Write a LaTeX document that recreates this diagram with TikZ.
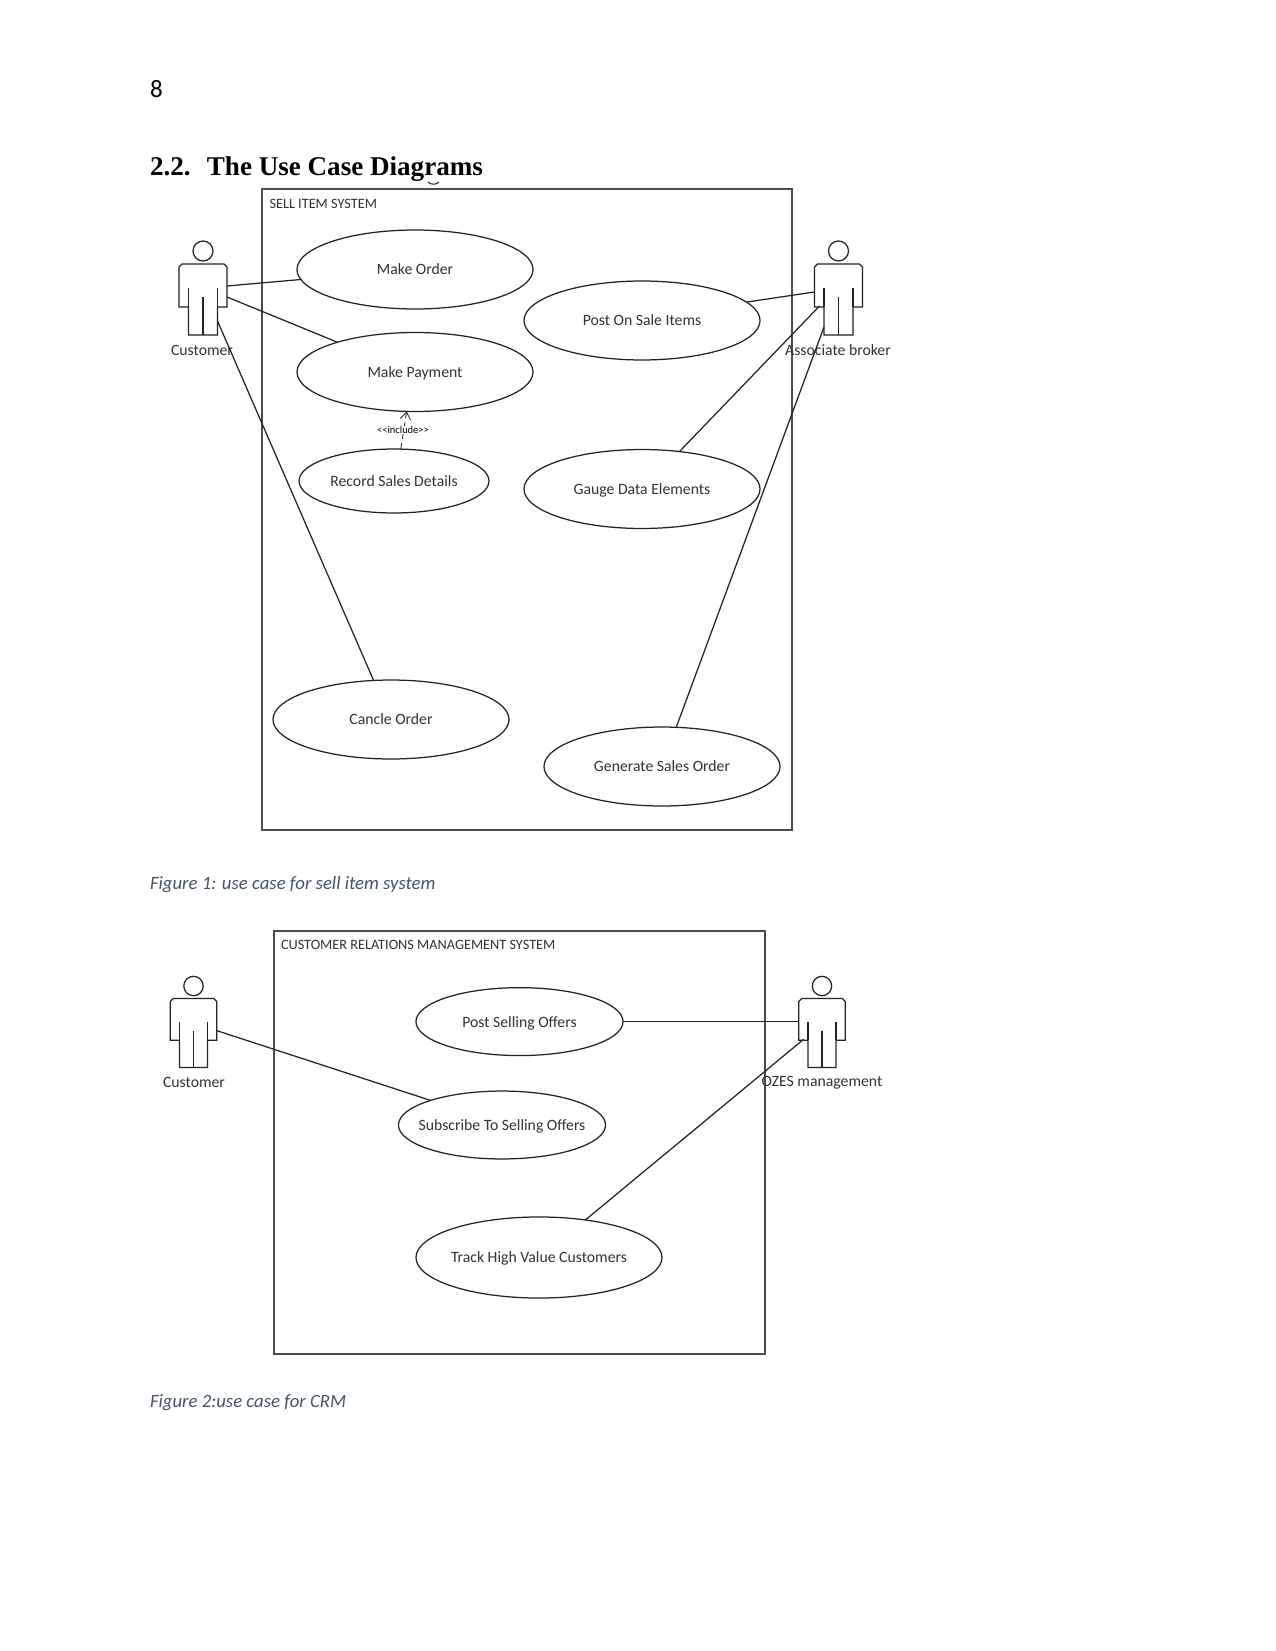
\documentclass[tikz,border=0pt]{standalone}
\usepackage{fontspec}
\setmainfont{Carlito}
\newfontfamily\headfont{Liberation Serif}
\definecolor{linegray}{RGB}{35,35,35}
\definecolor{boxgray}{RGB}{75,75,75}
\definecolor{textgray}{RGB}{50,50,50}
\definecolor{captionblue}{RGB}{68,84,106}
\usetikzlibrary{arrows.meta,positioning,shapes.geometric,calc}

\tikzset{
  pics/actor/.style={code={
    \draw[actorline] (0,0) circle[radius=10];
    \draw[actorline] (-14.5,84) -- (-14.5,56) -- (-24,56) -- (-24,16) -- (-21,13) -- (21,13)
      -- (24,16) -- (24,56) -- (14.5,56) -- (14.5,84) -- cycle;
    \draw[actorline] (-14.5,37) -- (-14.5,56);
    \draw[actorline] (14.5,37) -- (14.5,56);
    \draw[actorline] (0,46) -- (0,84);
    % connector ends on the figure
    \coordinate (-rightA) at (24,35);
    \coordinate (-rightB) at (24,46);
    \coordinate (-legR) at (14.5,70);
    \coordinate (-leftA) at (-24,41);
    \coordinate (-leftB) at (-19,55);
    \coordinate (-legL) at (-14.5,76);
  }},
}

\begin{document}
\begin{tikzpicture}[
  x=0.48pt, y=-0.48pt,
  every node/.style={font=\fontsize{7.55pt}{9pt}\selectfont, text=textgray, inner sep=0pt, outer sep=0pt},
  actorline/.style={draw=linegray, line width=0.6pt},
  sysbox/.style={draw=boxgray, line width=0.75pt},
  link/.style={draw=linegray, line width=0.6pt},
  casebig/.style={ellipse, draw=linegray, line width=0.6pt, text depth=0pt, minimum width=113.3pt, minimum height=37.9pt},
  casesmall/.style={ellipse, draw=linegray, line width=0.6pt, text depth=0pt, minimum width=91.2pt, minimum height=30.7pt},
  casemid/.style={ellipse, draw=linegray, line width=0.6pt, text depth=0pt, inner xsep=-6pt, minimum width=99.4pt, minimum height=32.6pt},
  casewide/.style={ellipse, draw=linegray, line width=0.6pt, text depth=0pt, inner xsep=-2pt, minimum width=118.1pt, minimum height=38.9pt},
  boxtitle/.style={anchor=west, font=\fontsize{6.85pt}{8pt}\selectfont},
  caption/.style={anchor=west, text=captionblue, font=\fontsize{9pt}{11pt}\selectfont\itshape},
]
\useasboundingbox (0,0) rectangle (1275,1651);
\fill[white] (0,0) rectangle (1275,1651);

% Page head
\node[anchor=west, text=black, font=\fontsize{12pt}{14pt}\selectfont] (pagenum) at (150,89) {8};
\node[anchor=base west, text=black, font=\headfont\fontsize{13pt}{15pt}\selectfont\bfseries] (heading) at (150,175.5) {2.2.\hspace{7.8pt}The Use Case Diagrams};
\draw[linegray, line width=0.5pt] (428,182) .. controls (431,185) and (436,185) .. (439,182);

% Sell item system
\draw[sysbox] (262,189) rectangle (792,830);
\node[boxtitle] (selltitle) at (269.5,204) {SELL ITEM SYSTEM};

\pic (cust) at (203,251) {actor};
\pic (broker) at (838.5,251) {actor};
\node (custlabel) at (202,350) {Customer};
\node (brokerlabel) at (838,350) {Associate broker};

\node[casebig] (order) at (415,269.5) {Make Order};
\node[casebig] (payment) at (415,372) {Make Payment};
\node[casesmall] (record) at (394,481) {Record Sales Details};
\node[casebig] (cancle) at (391,719.5) {Cancle Order};
\node[casebig] (post) at (642,320.5) {Post On Sale Items};
\node[casebig] (gauge) at (642,489) {Gauge Data Elements};
\node[casebig] (generate) at (662,766.5) {Generate Sales Order};

\draw[link] (cust-rightA) -- (order.185);
\draw[link] (cust-rightB) -- (payment.159);
\draw[link] (cust-legR) -- (cancle.114);
\draw[link] (broker-leftA) -- (post.10);
\draw[link] (broker-leftB) -- (gauge.45);
\draw[link] (broker-legL) -- (generate.70);

% Include relation
\draw[link, line width=0.4pt, densely dashed, -{Straight Barb[length=3.5pt,width=5pt]}] (record.78) -- (payment.258);
\node[fill=white, font=\fontsize{5pt}{6pt}\selectfont, text=black] (includelabel) at (403,430) {{<}{<}include{>}{>}};

\node[caption] (captionA) at (150,884.5) {Figure 1: use case for sell item system};

% Customer relations management system
\draw[sysbox] (274,931) rectangle (765,1354);
\node[boxtitle] (crmtitle) at (281,945) {CUSTOMER RELATIONS MANAGEMENT SYSTEM};

\pic[scale=0.97] (crmcust) at (193.5,986) {actor};
\pic[scale=0.97] (ozes) at (822,986) {actor};
\node (crmcustlabel) at (194,1082.5) {Customer};
\node (ozeslabel) at (822,1082.5) {OZES management};

\node[casemid] (selling) at (519.5,1021.6) {Post Selling Offers};
\node[casemid] (subscribe) at (502,1125) {Subscribe To Selling Offers};
\node[casewide] (track) at (539,1257.5) {Track High Value Customers};
\coordinate (ozesgrip) at (selling.east -| ozes-leftA);

\draw[link] (crmcust-rightB) -- (subscribe.161);
\draw[link] (selling.east) -- (ozesgrip);
\draw[link] (track.39) -- (ozes-leftB);

\node[caption] (captionB) at (150,1403) {Figure 2:use case for CRM};

\end{tikzpicture}
\end{document}
